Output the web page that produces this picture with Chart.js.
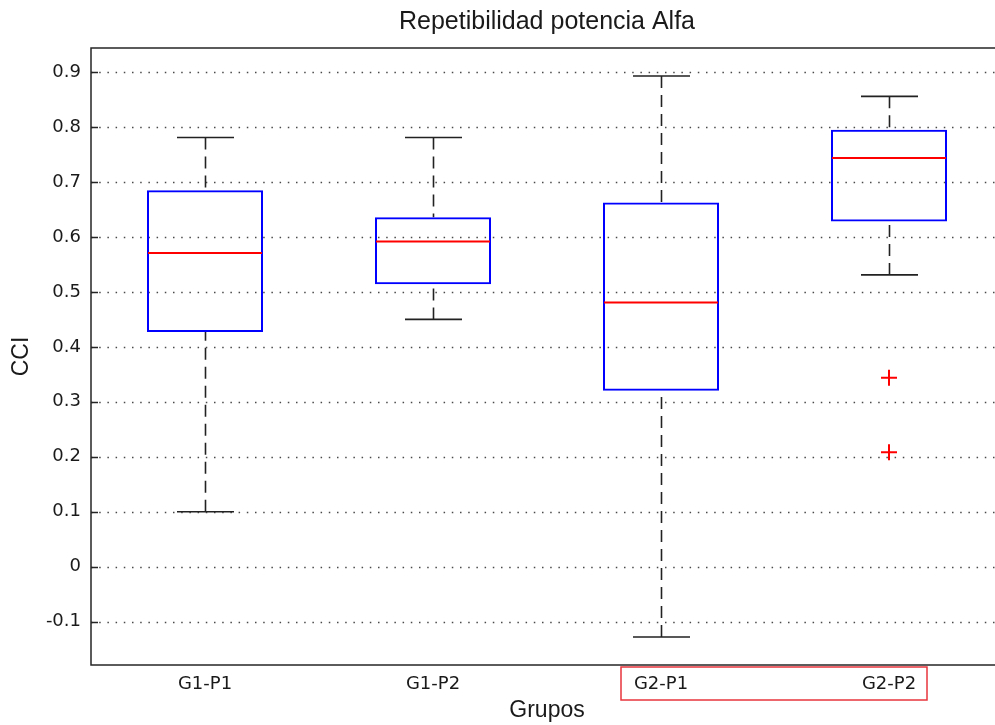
<!DOCTYPE html>
<html>
<head>
<meta charset="utf-8">
<title>Repetibilidad potencia Alfa</title>
<script src="https://cdn.jsdelivr.net/npm/chart.js@4.4.1/dist/chart.umd.min.js"></script>
<style>
  html, body { margin: 0; padding: 0; background: #fff; overflow: hidden; }
  #wrap { width: 995px; height: 725px; overflow: hidden; }
  canvas { display: block; }
</style>
</head>
<body>
<div id="wrap"><canvas id="chart" width="1094" height="725"></canvas></div>
<script>
// datos
var grupos        = ["G1-P1", "G1-P2", "G2-P1", "G2-P2"];
var bigoteMin     = [0.100, 0.450, -0.128, 0.531];
var cuartil1      = [0.427, 0.514, 0.320, 0.628];
var mediana       = [0.571, 0.592, 0.481, 0.744];
var cuartil3      = [0.685, 0.636, 0.663, 0.795];
var bigoteMax     = [0.781, 0.781, 0.893, 0.856];
var atipicosGrupo = ["G2-P2", "G2-P2"];
var atipicosValor = [0.344, 0.208];
var yTicks        = [-0.1, 0, 0.1, 0.2, 0.3, 0.4, 0.5, 0.6, 0.7, 0.8, 0.9];

var textColor = "#1a1a1a",
    anchoCaja = 0.509,
    anchoTope = 0.25;

var boxPlotPlugin = {
    id: "boxPlot",
    beforeDatasetsDraw: function(chart){
        var ctx  = chart.ctx,
            area = chart.chartArea,
            x    = chart.scales.x,
            y    = chart.scales.y;

        // grid punteado
        ctx.save();
        ctx.strokeStyle = "#4a4a4a";
        ctx.lineWidth = 1.5;
        ctx.setLineDash([1.5, 6.7]);
        y.ticks.forEach(function(t){
            var py = Math.round(y.getPixelForValue(t.value)) + 0.5;
            ctx.beginPath();
            ctx.moveTo(area.left, py);
            ctx.lineTo(area.right, py);
            ctx.stroke();
        });
        ctx.restore();

        var unidad = x.getPixelForValue(1) - x.getPixelForValue(0);

        // bigotes
        ctx.save();
        ctx.strokeStyle = "#222";
        ctx.lineWidth = 1.6;
        $each(grupos, function(i){
            var px = Math.round(x.getPixelForValue(i)) + 0.5,
                hw = unidad * anchoTope / 2;

            ctx.setLineDash([12, 7]);
            ctx.beginPath();
            ctx.moveTo(px, y.getPixelForValue(bigoteMax[i]));
            ctx.lineTo(px, y.getPixelForValue(cuartil3[i]));
            ctx.moveTo(px, y.getPixelForValue(bigoteMin[i]));
            ctx.lineTo(px, y.getPixelForValue(cuartil1[i]));
            ctx.stroke();

            ctx.setLineDash([]);
            ctx.beginPath();
            ctx.moveTo(px - hw, y.getPixelForValue(bigoteMax[i]));
            ctx.lineTo(px + hw, y.getPixelForValue(bigoteMax[i]));
            ctx.moveTo(px - hw, y.getPixelForValue(bigoteMin[i]));
            ctx.lineTo(px + hw, y.getPixelForValue(bigoteMin[i]));
            ctx.stroke();
        });
        ctx.restore();
    },
    afterDatasetsDraw: function(chart){
        var ctx  = chart.ctx,
            area = chart.chartArea,
            x    = chart.scales.x,
            y    = chart.scales.y;
        var unidad = x.getPixelForValue(1) - x.getPixelForValue(0);

        // medianas
        ctx.save();
        ctx.strokeStyle = "#ff0000";
        ctx.lineWidth = 2;
        $each(grupos, function(i){
            var px = x.getPixelForValue(i),
                hw = unidad * anchoCaja / 2,
                py = y.getPixelForValue(mediana[i]);
            ctx.beginPath();
            ctx.moveTo(px - hw + 1, py);
            ctx.lineTo(px + hw - 1, py);
            ctx.stroke();
        });
        ctx.restore();

        // marco de ejes y ticks hacia dentro
        ctx.save();
        ctx.strokeStyle = "#262626";
        ctx.lineWidth = 1.5;
        ctx.strokeRect(area.left, area.top, area.right - area.left, area.bottom - area.top);
        ctx.beginPath();
        y.ticks.forEach(function(t){
            var py = Math.round(y.getPixelForValue(t.value)) + 0.5;
            ctx.moveTo(area.left, py);
            ctx.lineTo(area.left + 7, py);
            ctx.moveTo(area.right, py);
            ctx.lineTo(area.right - 7, py);
        });
        ctx.stroke();
        ctx.restore();

        // recuadro rojo sobre G2-P1 / G2-P2
        ctx.save();
        ctx.strokeStyle = "#e8343c";
        ctx.lineWidth = 1.5;
        var x0 = x.getPixelForValue(2) - 40,
            x1 = x.getPixelForValue(3) + 38;
        ctx.strokeRect(x0, area.bottom + 2, x1 - x0, 33);
        ctx.restore();
    }
};

function $each(arr, fn){
    for (var i = 0; i < arr.length; i++){ fn(i, arr[i]); }
}

var cajas = grupos.map(function(g, i){
    return [cuartil1[i], cuartil3[i]];
});

var atipicos = atipicosGrupo.map(function(g, i){
    return {x: g, y: atipicosValor[i]};
});

var ctx = document.getElementById("chart");

var chart = new Chart(ctx, {
    type: "bar",
    data: {
        labels: grupos,
        datasets: [{
            type: "bar",
            data: cajas,
            backgroundColor: "rgba(0,0,0,0)",
            borderColor: "#0000ff",
            borderWidth: 2,
            borderSkipped: false,
            barPercentage: anchoCaja,
            categoryPercentage: 1
        }, {
            type: "scatter",
            data: atipicos,
            pointStyle: "cross",
            pointRadius: 8,
            pointHoverRadius: 8,
            borderColor: "#ff0000",
            borderWidth: 2
        }]
    },
    options: {
        responsive: false,
        animation: false,
        devicePixelRatio: 1,
        layout: { padding: 0 },
        plugins: {
            legend: { display: false },
            tooltip: { enabled: false },
            title: {
                display: true,
                text: "Repetibilidad potencia Alfa",
                color: textColor,
                font: { family: "'Liberation Sans', Arial, sans-serif", size: 25, weight: "normal" },
                padding: { top: 7, bottom: 11 }
            }
        },
        scales: {
            x: {
                type: "category",
                offset: true,
                grid: { display: false, drawTicks: false },
                border: { display: false },
                ticks: {
                    color: textColor,
                    padding: 9,
                    font: { family: "'DejaVu Sans', sans-serif", size: 18 }
                },
                title: {
                    display: true,
                    text: "Grupos",
                    color: textColor,
                    font: { family: "'Liberation Sans', Arial, sans-serif", size: 23 },
                    padding: { top: 0, bottom: 1 }
                },
                afterFit: function(scale){ scale.height = 60; }
            },
            y: {
                min: -0.179,
                max: 0.944,
                grid: { display: false, drawTicks: false },
                border: { display: false },
                afterBuildTicks: function(scale){
                    scale.ticks = yTicks.map(function(v){ return {value: v}; });
                },
                ticks: {
                    color: textColor,
                    padding: 10,
                    font: { family: "'DejaVu Sans', sans-serif", size: 18 },
                    callback: function(v){ return String(Math.round(v * 10) / 10); }
                },
                title: {
                    display: true,
                    text: "CCI",
                    color: textColor,
                    font: { family: "'Liberation Sans', Arial, sans-serif", size: 23 },
                    padding: { top: 8, bottom: 0 }
                },
                afterFit: function(scale){ scale.width = 91; }
            },
            derecha: {
                type: "linear",
                position: "right",
                display: true,
                min: -0.179,
                max: 0.944,
                grid: { display: false, drawTicks: false },
                border: { display: false },
                ticks: { display: false },
                afterFit: function(scale){ scale.width = 91; }
            }
        }
    },
    plugins: [boxPlotPlugin]
});
</script>
</body>
</html>
